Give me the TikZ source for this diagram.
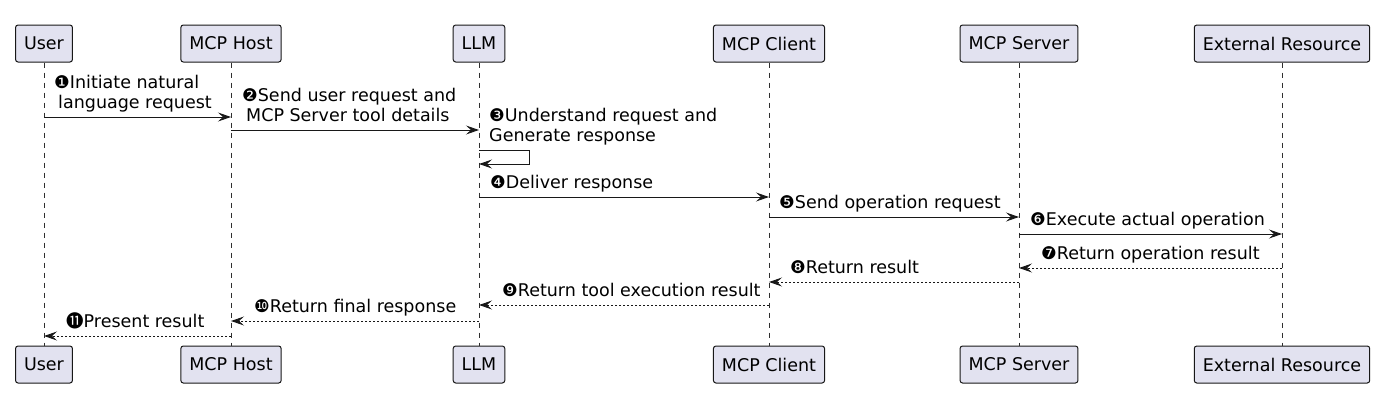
\documentclass[tikz,border=0pt]{standalone}
\usepackage{fontspec}
\setmainfont{DejaVu Sans}
\newfontfamily\cjk{Noto Sans CJK JP}
\usetikzlibrary{positioning,arrows.meta}

\definecolor{partfill}{HTML}{E2E2F0}
\definecolor{umlline}{HTML}{181818}

\tikzset{
  part/.style={draw=umlline, fill=partfill, rounded corners=2.5pt, line width=1pt,
    minimum height=37pt, inner xsep=8.5pt, font=\fontsize{17.5}{21}\selectfont},
  life/.style={draw=umlline!90, line width=0.9pt, dash pattern=on 5pt off 5pt},
  req/.style={draw=umlline, line width=1pt, -{Stealth[length=13pt,width=9pt,inset=5pt]}},
  ret/.style={req, dash pattern=on 2pt off 2pt},
  msg/.style={font=\fontsize{17.5}{20.5}\selectfont, align=left, inner sep=0pt}
}

\begin{document}
\begin{tikzpicture}[x=1pt, y=-1pt]

\useasboundingbox (0,0) rectangle (1385,413);

\node[part] (userT) at (44,43.5) {User};
\node[part] (hostT) at (231,43.5) {MCP Host};
\node[part] (llmT) at (479,43.5) {LLM};
\node[part] (clientT) at (769,43.5) {MCP Client};
\node[part] (serverT) at (1019,43.5) {MCP Server};
\node[part] (extT) at (1282,43.5) {External Resource};

\node[part] (userB) at (44,364.5) {User};
\node[part] (hostB) at (231,364.5) {MCP Host};
\node[part] (llmB) at (479,364.5) {LLM};
\node[part] (clientB) at (769,364.5) {MCP Client};
\node[part] (serverB) at (1019,364.5) {MCP Server};
\node[part] (extB) at (1282,364.5) {External Resource};

\draw[life] (userT) -- (userB);
\draw[life] (hostT) -- (hostB);
\draw[life] (llmT) -- (llmB);
\draw[life] (clientT) -- (clientB);
\draw[life] (serverT) -- (serverB);
\draw[life] (extT) -- (extB);

\coordinate (s1) at (44,117);
\coordinate (e1) at (231,117);
\coordinate (s2) at (231,130);
\coordinate (e2) at (479,130);
\coordinate (s3) at (479,150);
\coordinate (d3) at (529,164);
\coordinate (e3) at (479,164);
\coordinate (s4) at (479,197);
\coordinate (e4) at (769,197);
\coordinate (s5) at (769,217);
\coordinate (e5) at (1019,217);
\coordinate (s6) at (1019,234);
\coordinate (e6) at (1282,234);
\coordinate (s7) at (1282,268);
\coordinate (e7) at (1019,268);
\coordinate (s8) at (1019,282);
\coordinate (e8) at (769,282);
\coordinate (s9) at (769,305);
\coordinate (e9) at (479,305);
\coordinate (s10) at (479,321);
\coordinate (e10) at (231,321);
\coordinate (s11) at (231,336);
\coordinate (e11) at (44,336);

\draw[req] (s1) -- (e1);
\draw[req] (s2) -- (e2);
\draw[req] (s3) -| (d3) -- (e3);
\draw[req] (s4) -- (e4);
\draw[req] (s5) -- (e5);
\draw[req] (s6) -- (e6);
\draw[ret] (s7) -- (e7);
\draw[ret] (s8) -- (e8);
\draw[ret] (s9) -- (e9);
\draw[ret] (s10) -- (e10);
\draw[ret] (s11) -- (e11);

\node[msg, above right=2pt and 10pt of s1] (l1) {❶Initiate natural\\\hspace*{4pt}language request\strut};
\node[msg, above right=2pt and 11pt of s2] (l2) {❷Send user request and\\\hspace*{4pt}MCP Server tool details\strut};
\node[msg, above right=2pt and 10pt of s3] (l3) {❸Understand request and\\Generate response\strut};
\node[msg, above right=2pt and 11pt of s4] (l4) {❹Deliver response\strut};
\node[msg, above right=2pt and 10pt of s5] (l5) {❺Send operation request\strut};
\node[msg, above right=2pt and 11pt of s6] (l6) {❻Execute actual operation\strut};
\node[msg, above right=2pt and 22pt of e7] (l7) {❼Return operation result\strut};
\node[msg, above right=2pt and 21pt of e8] (l8) {❽Return result\strut};
\node[msg, above right=2pt and 23pt of e9] (l9) {❾Return tool execution result\strut};
\node[msg, above right=2pt and 23pt of e10] (l10) {❿Return final response\strut};
\node[msg, above right=2pt and 22pt of e11] (l11) {{\cjk ⓫}Present result\strut};

\end{tikzpicture}
\end{document}
